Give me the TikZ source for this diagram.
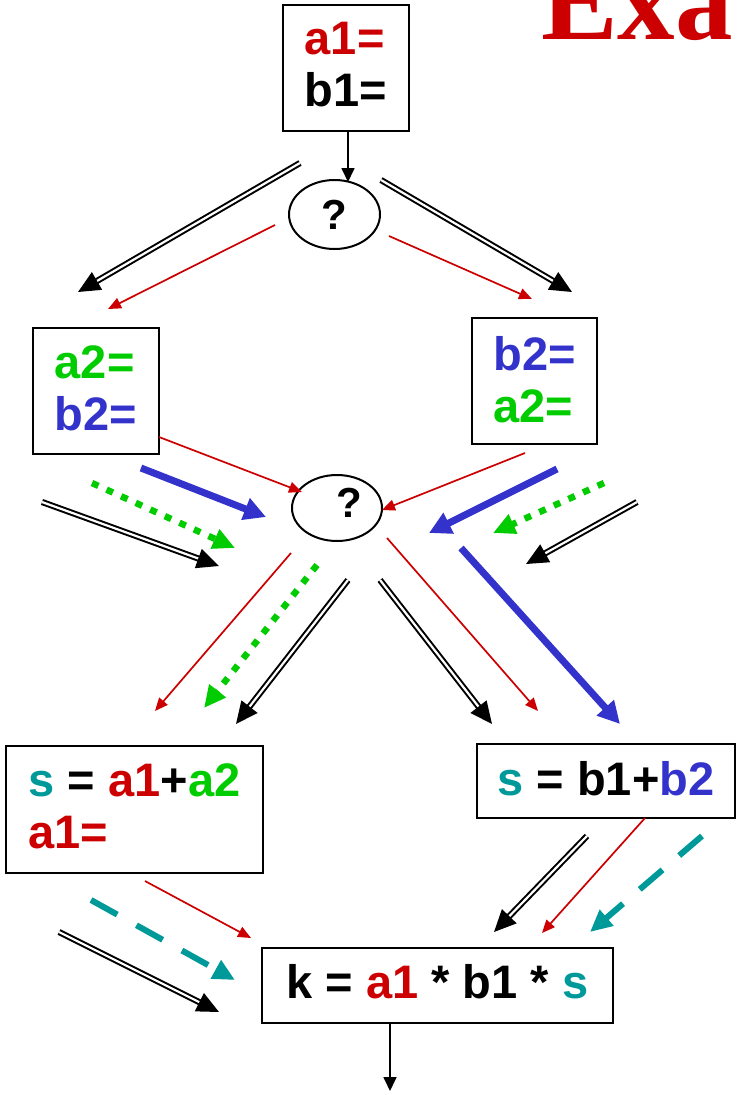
\documentclass[tikz,border=0pt]{standalone}
\usepackage{fontspec}
\setmainfont{Liberation Sans}
\newfontfamily\titlefont{Liberation Serif}
\usetikzlibrary{arrows.meta,shapes.geometric}
\definecolor{cred}{RGB}{204,0,0}
\definecolor{cgreen}{RGB}{0,204,0}
\definecolor{cblue}{RGB}{51,51,204}
\definecolor{cteal}{RGB}{0,153,153}
\newcommand\mybigfont{\fontsize{47}{52}\selectfont\bfseries}
\newcommand\myqfont{\fontsize{42}{42}\selectfont\bfseries}
\begin{document}
\begin{tikzpicture}[x=1pt,y=-1pt,
  box/.style={draw, line width=2.5pt, inner sep=0pt, align=left, font=\mybigfont},
  qnode/.style={draw, ellipse, line width=2pt, inner sep=0pt, font=\myqfont},
  thinred/.style={draw=cred, line width=1.7pt, -{Triangle[length=13pt,width=11pt]}},
  thinblack/.style={draw=black, line width=1.7pt, -{Triangle[length=14pt,width=13pt]}},
  dbl/.style={draw=black, double=white, line width=2pt, double distance=2.2pt, -{Triangle[length=22pt,width=20pt]}},
  bluearr/.style={draw=cblue, line width=7pt, -{Triangle[length=22pt,width=22pt]}},
  greendot/.style={draw=cgreen, line width=6.5pt, dash pattern=on 7pt off 9pt, -{Triangle[length=22pt,width=20pt]}},
  tealdash/.style={draw=cteal, line width=6pt, dash pattern=on 30pt off 22pt, -{Triangle[length=22pt,width=20pt]}}
]
\useasboundingbox (0,0) rectangle (737,1095);

% title (cut off at the page edge, as in the reference)
\node[font=\titlefont\bfseries\fontsize{115}{115}\selectfont, text=cred, anchor=base west, inner sep=0pt] (title) at (541,39) {Exa};

% boxes
\node[box, minimum width=126pt, minimum height=126pt] (top) at (346,68)
  {\textcolor{cred}{a1=}\\b1=\rule[-7.6pt]{0pt}{7.6pt}};
\node[box, minimum width=126pt, minimum height=126pt] (boxa) at (96,391)
  {\textcolor{cgreen}{a2=}\\\textcolor{cblue}{b2=}\rule[-5.6pt]{0pt}{5.6pt}};
\node[box, minimum width=125pt, minimum height=126pt] (boxb) at (534.5,381)
  {\textcolor{cblue}{b2=}\\\textcolor{cgreen}{a2=}\rule[-3.6pt]{0pt}{3.6pt}};
\node[box, minimum width=257pt, minimum height=127pt] (sa) at (134.5,809.5)
  {\textcolor{cteal}{s} = \textcolor{cred}{a1}+\textcolor{cgreen}{a2}\\\textcolor{cred}{a1=}\rule[-6.6pt]{0pt}{6.6pt}};
\node[box, minimum width=258pt, minimum height=74pt] (sb) at (606,781)
  {\textcolor{cteal}{s} = b1+\textcolor{cblue}{b2}\rule[-5.6pt]{0pt}{5.6pt}};
\node[box, minimum width=351pt, minimum height=75pt] (k) at (437.5,985.5)
  {k = \textcolor{cred}{a1} * b1 * \textcolor{cteal}{s}\rule[-8.6pt]{0pt}{8.6pt}};

% decision nodes
\node[qnode, minimum width=91pt, minimum height=69pt] (q1) at (334.5,214.5) {?};
\node[qnode, minimum width=90pt, minimum height=66pt,
  label={[name=q2t, font=\myqfont, inner sep=0pt, xshift=12pt, yshift=5pt]center:?}] (q2) at (337,508) {};

% coordinates
\coordinate (A1s) at (300,163); \coordinate (A1e) at (78,292);
\coordinate (A2s) at (381,180); \coordinate (A2e) at (572,292);
\coordinate (A3s) at (275,225); \coordinate (A3e) at (108,309);
\coordinate (A4s) at (389,236); \coordinate (A4e) at (532,299);

\coordinate (B1s) at (159,437); \coordinate (B1e) at (302,492);
\coordinate (B2s) at (525,453); \coordinate (B2e) at (382,510);
\coordinate (B3s) at (141,468); \coordinate (B3e) at (266,517);
\coordinate (B4s) at (92,483);  \coordinate (B4e) at (235,548);
\coordinate (B5s) at (42,502);  \coordinate (B5e) at (219,566);
\coordinate (B6s) at (557,469); \coordinate (B6e) at (429,533);
\coordinate (B7s) at (604,483); \coordinate (B7e) at (493,533);
\coordinate (B8s) at (637,502); \coordinate (B8e) at (526,564);

\coordinate (C1s) at (291,553); \coordinate (C1e) at (155,711);
\coordinate (C2s) at (317,565); \coordinate (C2e) at (204,708);
\coordinate (C3s) at (348,580); \coordinate (C3e) at (236,724);
\coordinate (C4s) at (380,580); \coordinate (C4e) at (492,724);
\coordinate (C5s) at (387,538); \coordinate (C5e) at (538,711);
\coordinate (C6s) at (461,548); \coordinate (C6e) at (620,724);

\coordinate (D1s) at (145,881); \coordinate (D1e) at (251,938);
\coordinate (D2s) at (91,900);  \coordinate (D2e) at (235,980);
\coordinate (D3s) at (59,932);  \coordinate (D3e) at (219,1012);
\coordinate (D4s) at (587,836); \coordinate (D4e) at (494,932);
\coordinate (D5s) at (645,818); \coordinate (D5e) at (542,933);
\coordinate (D6s) at (702,836); \coordinate (D6e) at (590,932);
\coordinate (Ks) at (390,1023); \coordinate (Ke) at (390,1091);
\coordinate (Ts) at (348,131);  \coordinate (Te) at (348,182);

% connectors
\draw[thinblack] (Ts) -- (Te);
\draw[dbl] (A1s) -- (A1e);
\draw[dbl] (A2s) -- (A2e);
\draw[thinred] (A3s) -- (A3e);
\draw[thinred] (A4s) -- (A4e);

\draw[thinred] (B1s) -- (B1e);
\draw[thinred] (B2s) -- (B2e);
\draw[bluearr] (B3s) -- (B3e);
\draw[greendot] (B4s) -- (B4e);
\draw[dbl] (B5s) -- (B5e);
\draw[bluearr] (B6s) -- (B6e);
\draw[greendot] (B7s) -- (B7e);
\draw[dbl] (B8s) -- (B8e);

\draw[thinred] (C1s) -- (C1e);
\draw[greendot] (C2s) -- (C2e);
\draw[dbl] (C3s) -- (C3e);
\draw[dbl] (C4s) -- (C4e);
\draw[thinred] (C5s) -- (C5e);
\draw[bluearr] (C6s) -- (C6e);

\draw[thinred] (D1s) -- (D1e);
\draw[tealdash] (D2s) -- (D2e);
\draw[dbl] (D3s) -- (D3e);
\draw[dbl] (D4s) -- (D4e);
\draw[thinred] (D5s) -- (D5e);
\draw[tealdash] (D6s) -- (D6e);
\draw[thinblack] (Ks) -- (Ke);
\end{tikzpicture}
\end{document}
